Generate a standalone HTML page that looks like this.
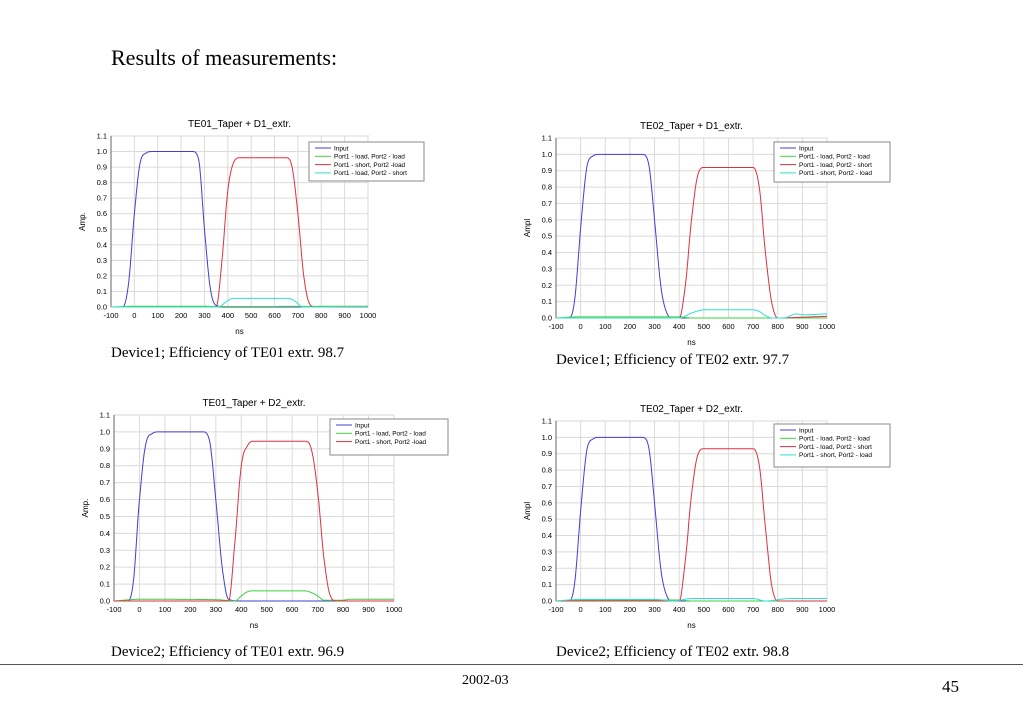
<!DOCTYPE html>
<html><head><meta charset="utf-8">
<style>
body{margin:0;background:#fff;width:1023px;height:708px;overflow:hidden;position:relative;font-family:"Liberation Serif",serif}
.t{position:absolute;white-space:nowrap;color:#000}
svg{position:absolute;left:0;top:0}
svg text{font-family:"Liberation Sans",sans-serif}
</style></head><body>
<div class="t" style="left:111px;top:45px;font-size:22px">Results of measurements:</div>
<div class="t" style="left:111px;top:345px;font-size:15px">Device1; Efficiency of TE01 extr. 98.7</div>
<div class="t" style="left:556px;top:352px;font-size:15px">Device1; Efficiency of TE02 extr. 97.7</div>
<div class="t" style="left:111px;top:644px;font-size:15px">Device2; Efficiency of TE01 extr. 96.9</div>
<div class="t" style="left:556px;top:644px;font-size:15px">Device2; Efficiency of TE02 extr. 98.8</div>
<div style="position:absolute;left:0;top:664px;width:1023px;height:1px;background:#555"></div>
<div class="t" style="left:462px;top:673px;font-size:14px">2002-03</div>
<div class="t" style="left:942px;top:677px;font-size:17px">45</div>
<svg id="svg" width="1023" height="708"></svg>
<script>
// ---- data ----
const xTicks=[-100,0,100,200,300,400,500,600,700,800,900,1000];
const yTicks=[0,0.1,0.2,0.3,0.4,0.5,0.6,0.7,0.8,0.9,1.0,1.1];
// Chart 1: TE01_Taper + D1_extr.
const c1InputX=[-100,-50,-25,0,25,50,75,250,275,300,325,350,400,1000];
const c1InputY=[0,0,0.15,0.6,0.93,0.99,1,1,0.95,0.5,0.12,0.01,0,0];
const c1GreenX=[-100,0,300,350,1000];
const c1GreenY=[0,0.005,0.005,0.003,0.005];
const c1RedX=[-100,350,375,400,425,450,650,675,700,725,750,775,1000];
const c1RedY=[0,0,0.3,0.75,0.93,0.96,0.96,0.9,0.6,0.2,0.02,0,0];
const c1CyanX=[-100,360,390,420,660,690,720,1000];
const c1CyanY=[0,0,0.03,0.055,0.055,0.035,0,0.002];
// Chart 2: TE02_Taper + D1_extr.
const c2InputX=[-100,-50,-25,0,25,50,75,250,275,300,325,350,375,1000];
const c2InputY=[0,0,0.1,0.55,0.92,0.99,1,1,0.95,0.6,0.2,0.03,0,0];
const c2GreenX=[-100,0,400,450,1000];
const c2GreenY=[0,0.007,0.007,0,0];
const c2RedX=[-100,400,425,450,475,500,700,725,750,775,800,900,1000];
const c2RedY=[0,0,0.2,0.6,0.87,0.92,0.92,0.8,0.4,0.1,0,0.005,0.01];
const c2CyanX=[-100,400,450,500,700,725,750,775,825,875,900,1000];
const c2CyanY=[0,0,0.03,0.05,0.05,0.04,0.015,0,0,0.025,0.02,0.025];
// Chart 3: TE01_Taper + D2_extr.
const c3InputX=[-100,-50,-25,0,25,50,75,250,275,300,325,350,400,1000];
const c3InputY=[0,0,0.1,0.6,0.93,0.99,1,1,0.95,0.6,0.2,0.01,0,0];
const c3GreenX=[-100,0,300,375,400,425,450,650,675,700,725,800,825,1000];
const c3GreenY=[0,0.01,0.008,0,0.03,0.055,0.06,0.06,0.05,0.03,0.005,0.005,0.01,0.01];
const c3RedX=[-100,350,375,400,425,450,650,675,700,725,750,775,1000];
const c3RedY=[0,0,0.35,0.8,0.92,0.945,0.945,0.9,0.65,0.25,0.03,0,0];
// Chart 4: TE02_Taper + D2_extr.
const c4InputX=[-100,-50,-25,0,25,50,75,250,275,300,325,350,375,1000];
const c4InputY=[0,0,0.1,0.55,0.92,0.99,1,1,0.95,0.6,0.2,0.03,0,0];
const c4GreenX=[-100,0,400,450,1000];
const c4GreenY=[0,0.006,0.006,0,0];
const c4RedX=[-100,400,425,450,475,500,700,725,750,775,800,1000];
const c4RedY=[0,0,0.25,0.65,0.89,0.93,0.93,0.83,0.45,0.1,0,0];
const c4CyanX=[-100,0,300,375,450,700,750,850,1000];
const c4CyanY=[0,0.01,0.01,0,0.015,0.015,0,0.015,0.015];

const BLUE='#4040d0',GREEN='#40d040',RED='#e03040',CYAN='#30e0d0';
const charts=[
 {name:'te01-d1',title:'TE01_Taper  + D1_extr.',ylab:'Amp.',x0:111,x1:368,yT:136,yB:307,
  leg:[309,142,115,39],series:[['Input',BLUE,c1InputX,c1InputY],['Port1 - load, Port2 - load',GREEN,c1GreenX,c1GreenY],['Port1 - short, Port2 -load',RED,c1RedX,c1RedY],['Port1 - load, Port2 - short',CYAN,c1CyanX,c1CyanY]]},
 {name:'te02-d1',title:'TE02_Taper + D1_extr.',ylab:'Ampl',x0:556,x1:827,yT:138,yB:318,
  leg:[774,142,116,40],series:[['Input',BLUE,c2InputX,c2InputY],['Port1 - load, Port2 - load',GREEN,c2GreenX,c2GreenY],['Port1 - load, Port2 - short',RED,c2RedX,c2RedY],['Port1 - short, Port2 - load',CYAN,c2CyanX,c2CyanY]]},
 {name:'te01-d2',title:'TE01_Taper  + D2_extr.',ylab:'Amp.',x0:114,x1:394,yT:415,yB:601,
  leg:[330,419,118,36],series:[['Input',BLUE,c3InputX,c3InputY],['Port1 - load, Port2 - load',GREEN,c3GreenX,c3GreenY],['Port1 - short, Port2 -load',RED,c3RedX,c3RedY]]},
 {name:'te02-d2',title:'TE02_Taper + D2_extr.',ylab:'Ampl',x0:556,x1:827,yT:421,yB:601,
  leg:[774,424,116,43],series:[['Input',BLUE,c4InputX,c4InputY],['Port1 - load, Port2 - load',GREEN,c4GreenX,c4GreenY],['Port1 - load, Port2 - short',RED,c4RedX,c4RedY],['Port1 - short, Port2 - load',CYAN,c4CyanX,c4CyanY]]}
];
const svg=document.getElementById('svg');
const NS='http://www.w3.org/2000/svg';
function mk(tag,attrs,parent){const e=document.createElementNS(NS,tag);for(const k in attrs)e.setAttribute(k,attrs[k]);parent.appendChild(e);return e;}
// monotone cubic (Fritsch-Carlson) in data space
function monotone(xs,ys){
 const n=xs.length,d=[],m=new Array(n);
 for(let i=0;i<n-1;i++)d.push((ys[i+1]-ys[i])/(xs[i+1]-xs[i]));
 m[0]=d[0];m[n-1]=d[n-2];
 for(let i=1;i<n-1;i++){m[i]=(d[i-1]*d[i]<=0)?0:(d[i-1]+d[i])/2;}
 for(let i=0;i<n-1;i++){
  if(d[i]===0){m[i]=0;m[i+1]=0;continue;}
  const a=m[i]/d[i],b=m[i+1]/d[i],s=a*a+b*b;
  if(s>9){const t=3/Math.sqrt(s);m[i]=t*a*d[i];m[i+1]=t*b*d[i];}
 }
 return x=>{
  let i=0;while(i<n-2&&x>xs[i+1])i++;
  const h=xs[i+1]-xs[i],t=(x-xs[i])/h,t2=t*t,t3=t2*t;
  return (2*t3-3*t2+1)*ys[i]+(t3-2*t2+t)*h*m[i]+(-2*t3+3*t2)*ys[i+1]+(t3-t2)*h*m[i+1];
 };
}
charts.forEach(c=>{
 const g=mk('g',{},svg);
 
 
 const sx=v=>c.x0+(v+100)/1100*(c.x1-c.x0);
 const sy=v=>c.yB-v/1.1*(c.yB-c.yT);
 const bg=mk('rect',{x:c.x0,y:c.yT,width:c.x1-c.x0,height:c.yB-c.yT,fill:'#fff',stroke:'#aaa','stroke-width':1},g);
 
 
 xTicks.forEach(t=>{
  const l=mk('line',{x1:sx(t),x2:sx(t),y1:c.yT,y2:c.yB,stroke:'#dadada','stroke-width':1},g);
  
  
  const tx=mk('text',{x:sx(t),y:c.yB+11,'font-size':7.5,'text-anchor':'middle',fill:'#000'},g);
  tx.textContent=t;
  
  
 });
 yTicks.forEach(t=>{
  const l=mk('line',{x1:c.x0,x2:c.x1,y1:sy(t),y2:sy(t),stroke:'#dadada','stroke-width':1},g);
  
  
  const tx=mk('text',{x:c.x0-4,y:sy(t)+2.5,'font-size':7.5,'text-anchor':'end',fill:'#000'},g);
  tx.textContent=t.toFixed(1);
  
  
 });
 mk('line',{x1:c.x0,x2:c.x1,y1:c.yB,y2:c.yB,stroke:'#666'},g);
 mk('line',{x1:c.x0,x2:c.x0,y1:c.yT,y2:c.yB,stroke:'#666'},g);
 const ti=mk('text',{x:(c.x0+c.x1)/2,y:c.yT-9,'font-size':10,'text-anchor':'middle'},g);
 ti.textContent=c.title;
 
 
 const xl=mk('text',{x:(c.x0+c.x1)/2,y:c.yB+27,'font-size':8,'text-anchor':'middle'},g);
 xl.textContent='ns';
 
 
 const ym=(c.yT+c.yB)/2,yx=c.x0-26;
 const yl=mk('text',{x:yx,y:ym,'font-size':8,'text-anchor':'middle',transform:'rotate(-90 '+yx+' '+ym+')'},g);
 yl.textContent=c.ylab;
 
 
 c.series.forEach(s=>{
  const f=monotone(s[2],s[3]);
  let d='';
  for(let x=-100;x<=1000;x+=2){d+=(x===-100?'M':'L')+sx(x).toFixed(1)+','+sy(f(x)).toFixed(1);}
  const p=mk('path',{d:d,fill:'none',stroke:s[1],'stroke-width':1},g);
  
  
 });
 const [lx,ly,lw,lh]=c.leg;
 const lg=mk('g',{},g);
 
 
 mk('rect',{x:lx,y:ly,width:lw,height:lh,fill:'#fff',stroke:'#888'},lg);
 c.series.forEach((s,i)=>{
  const yy=ly+6+i*8.3;
  mk('line',{x1:lx+6,x2:lx+22,y1:yy,y2:yy,stroke:s[1]},lg);
  const t=mk('text',{x:lx+25,y:yy+2.3,'font-size':6.5},lg);
  t.textContent=s[0];
  
  
 });
});
</script>
</body></html>
